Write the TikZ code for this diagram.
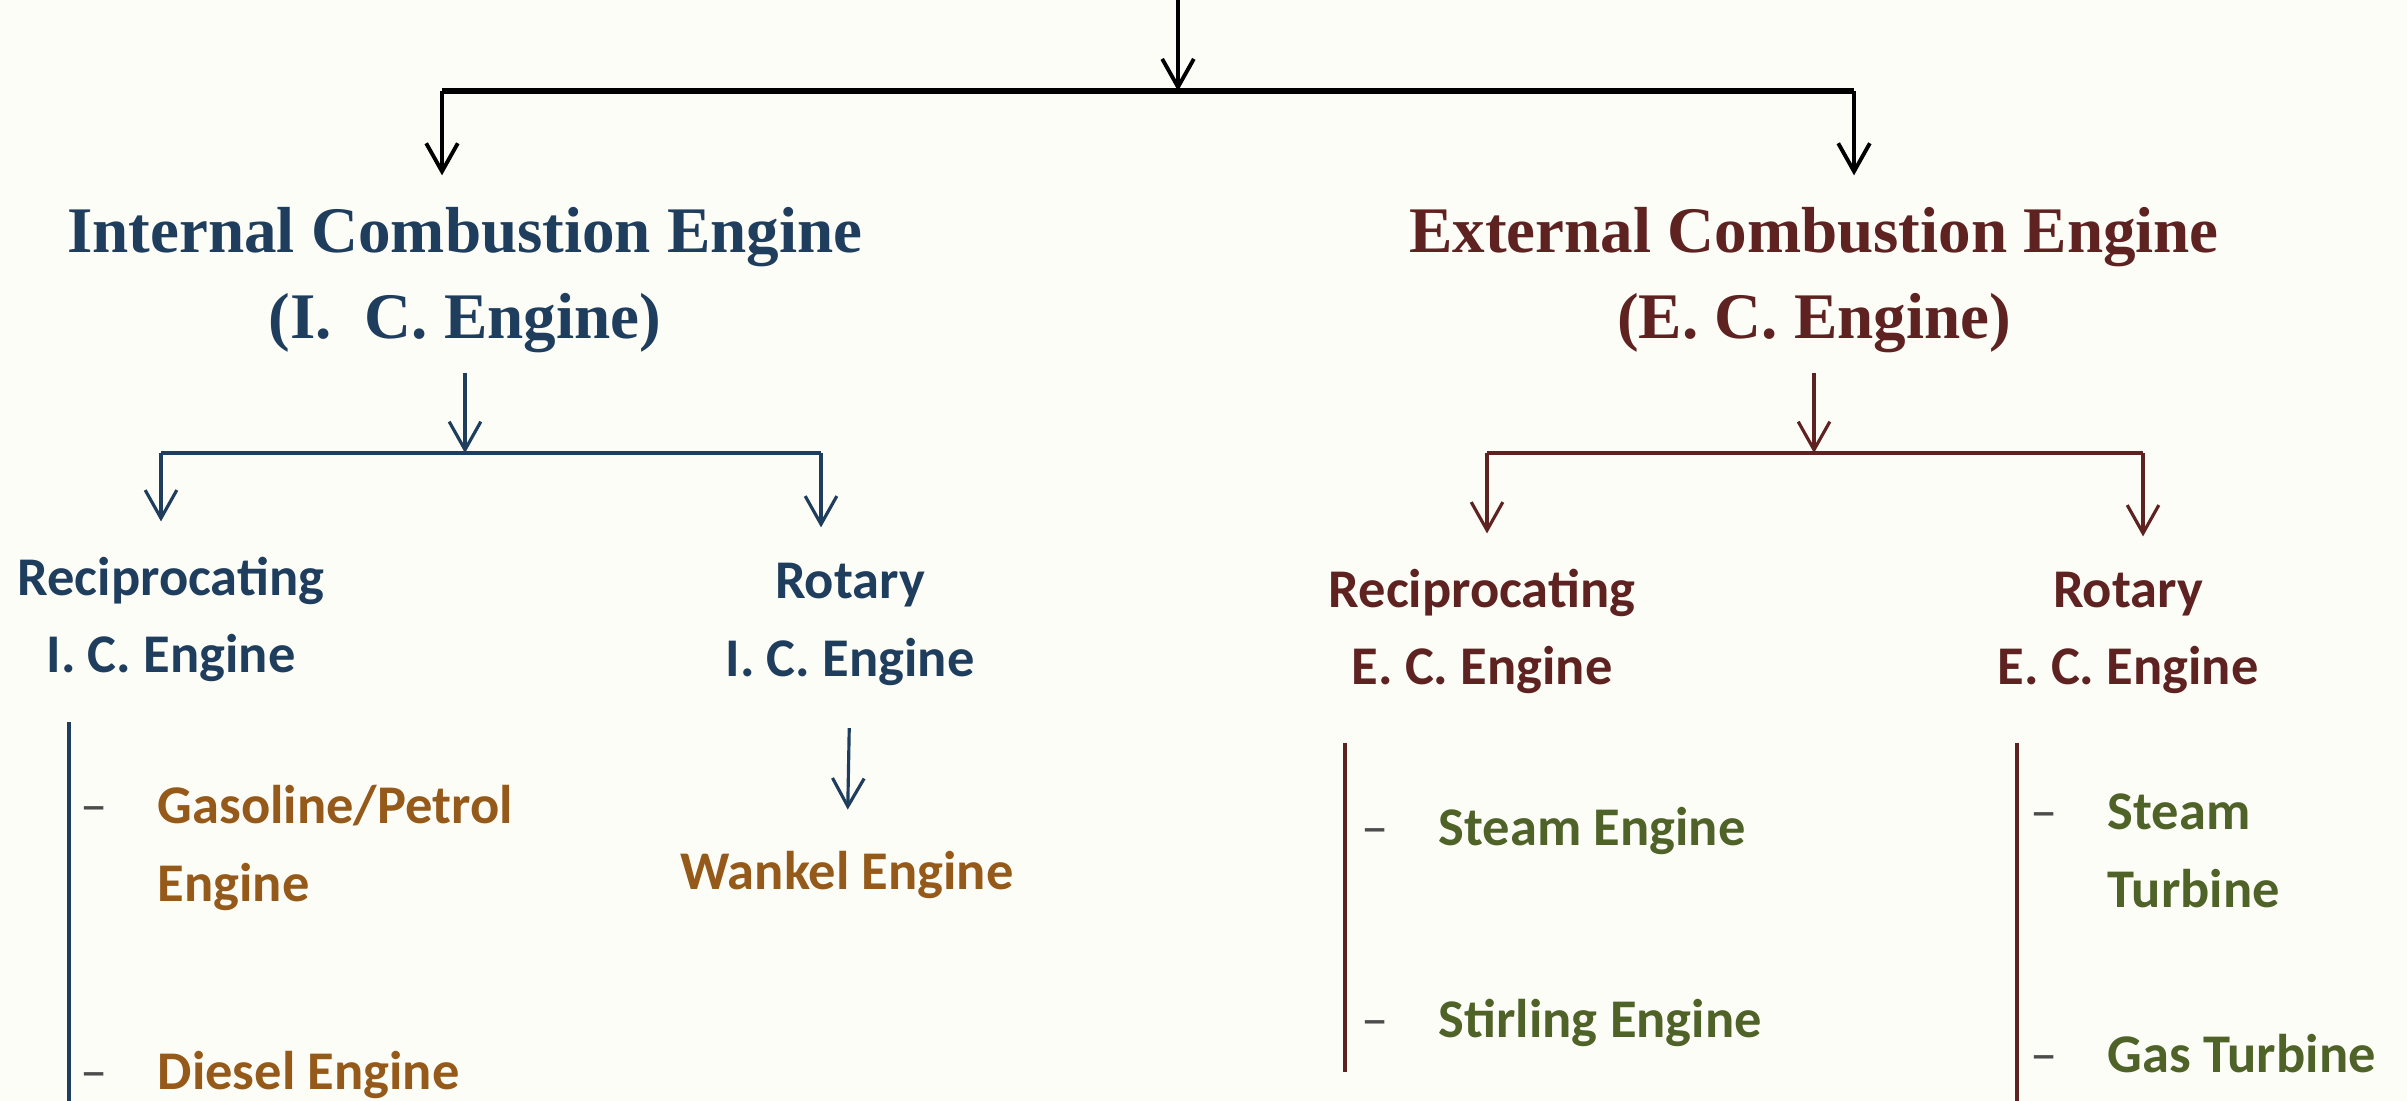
\documentclass[tikz,border=0pt]{standalone}
\usepackage{fontspec}
\setmainfont{Liberation Serif}
\newfontfamily\calib{Carlito}
\usetikzlibrary{arrows.meta}
\definecolor{icblue}{HTML}{1F3D5C}
\definecolor{ecred}{HTML}{5E2221}
\definecolor{petrol}{HTML}{955A1A}
\definecolor{leafgreen}{HTML}{4F6228}
\definecolor{paper}{HTML}{FDFDF8}
\tikzset{
  arr/.style={-{Straight Barb[length=8pt,width=9pt]}},
  heading/.style={font=\fontsize{18.5}{24.5}\selectfont\bfseries, align=center, inner sep=0pt, anchor=base},
  subhead/.style={font=\calib\fontsize{15.5}{22}\selectfont\bfseries, align=center, inner sep=0pt, anchor=base},
  leaf/.style={font=\calib\fontsize{15.5}{22}\selectfont\bfseries, align=left, inner sep=0pt, anchor=base west},
}
\newcommand{\bul}{\makebox[0.77cm][l]{\mdseries\color{black!70}–}}
\newcommand{\nobul}{\hspace*{0.77cm}}

\begin{document}
\begin{tikzpicture}[x=0.01cm,y=-0.01cm]
\fill[paper] (0,0) rectangle (2407,1101);
\useasboundingbox (0,0) rectangle (2407,1101);
% headings (base = last line):
\node[heading, text=icblue] (ic) at (465,339) {Internal Combustion Engine\\(I.\ \ C. Engine)};
\node[heading, text=ecred] (ec) at (1814,339) {External Combustion Engine\\(E. C. Engine)};
\node[subhead, text=icblue] (icrec) at (171,673) {Reciprocating\\I. C. Engine};
\node[subhead, text=icblue] (icrot) at (850,676) {Rotary\\I. C. Engine};
\node[subhead, text=ecred] (ecrec) at (1482,685) {Reciprocating\\E. C. Engine};
\node[subhead, text=ecred] (ecrot) at (2128,685) {Rotary\\E. C. Engine};
% leaves:
\node[leaf, text=petrol] (gas) at (80,901) {\bul Gasoline/Petrol\\\nobul Engine};
\node[leaf, text=petrol] (diesel) at (80,1089) {\bul Diesel Engine};
\node[subhead, text=petrol] (wankel) at (847,889) {Wankel Engine};
\node[leaf, text=leafgreen] (steameng) at (1361,845) {\bul Steam Engine};
\node[leaf, text=leafgreen] (stirling) at (1361,1037) {\bul Stirling Engine};
\node[leaf, text=leafgreen] (steamturb) at (2030,907) {\bul Steam\\\nobul Turbine};
\node[leaf, text=leafgreen] (gasturb) at (2030,1072) {\bul Gas Turbine};
% top split:
\coordinate (in) at (1178,0);
\coordinate (top) at (1178,91);
\coordinate (topL) at (442,91);
\coordinate (topR) at (1854,91);
\draw[arr, line width=1.1pt] (in) -- (top);
\draw[line width=1.6pt] (topL) -- (topR);
\draw[arr, line width=1.1pt, shorten >=9pt] (topL) -- (ic.north -| topL);
\draw[arr, line width=1.1pt, shorten >=9pt] (topR) -- (ec.north -| topR);
% I.C. split:
\coordinate (icmid) at (463,453);
\coordinate (icL) at (161,453);
\coordinate (icR) at (821,453);
\draw[arr, icblue, line width=0.9pt, shorten <=5.5pt] (ic.south) -- (ic.south |- icmid);
\draw[icblue, line width=1.4pt] (icL) -- (icR);
\draw[arr, icblue, line width=0.9pt, shorten >=10pt] (icL) -- (icL |- icrec.north);
\draw[arr, icblue, line width=0.9pt, shorten >=10pt] (icR) -- (icR |- icrot.north);
\draw[arr, icblue, line width=0.9pt, shorten <=12pt, shorten >=11.5pt] (icrot.south) -- (wankel.north);
% E.C. split:
\coordinate (ecmid) at (1818,453);
\coordinate (ecL) at (1487,453);
\coordinate (ecR) at (2143,453);
\draw[arr, ecred, line width=0.9pt, shorten <=5.5pt] (ec.south) -- (ec.south |- ecmid);
\draw[ecred, line width=1.4pt] (ecL) -- (ecR);
\draw[arr, ecred, line width=0.9pt, shorten >=10pt] (ecL) -- (ecL |- ecrec.north);
\draw[arr, ecred, line width=0.9pt, shorten >=10pt] (ecR) -- (ecR |- ecrot.north);
% side bars:
\draw[icblue, line width=1.1pt] (69,722) coordinate (gasA) -- (69,1101) coordinate (gasB);
\draw[ecred, line width=1pt] (1345,743) coordinate (steamA) -- (1345,1072) coordinate (steamB);
\draw[ecred, line width=1pt] (2017,743) coordinate (turbA) -- (2017,1101) coordinate (turbB);
\end{tikzpicture}
\end{document}
